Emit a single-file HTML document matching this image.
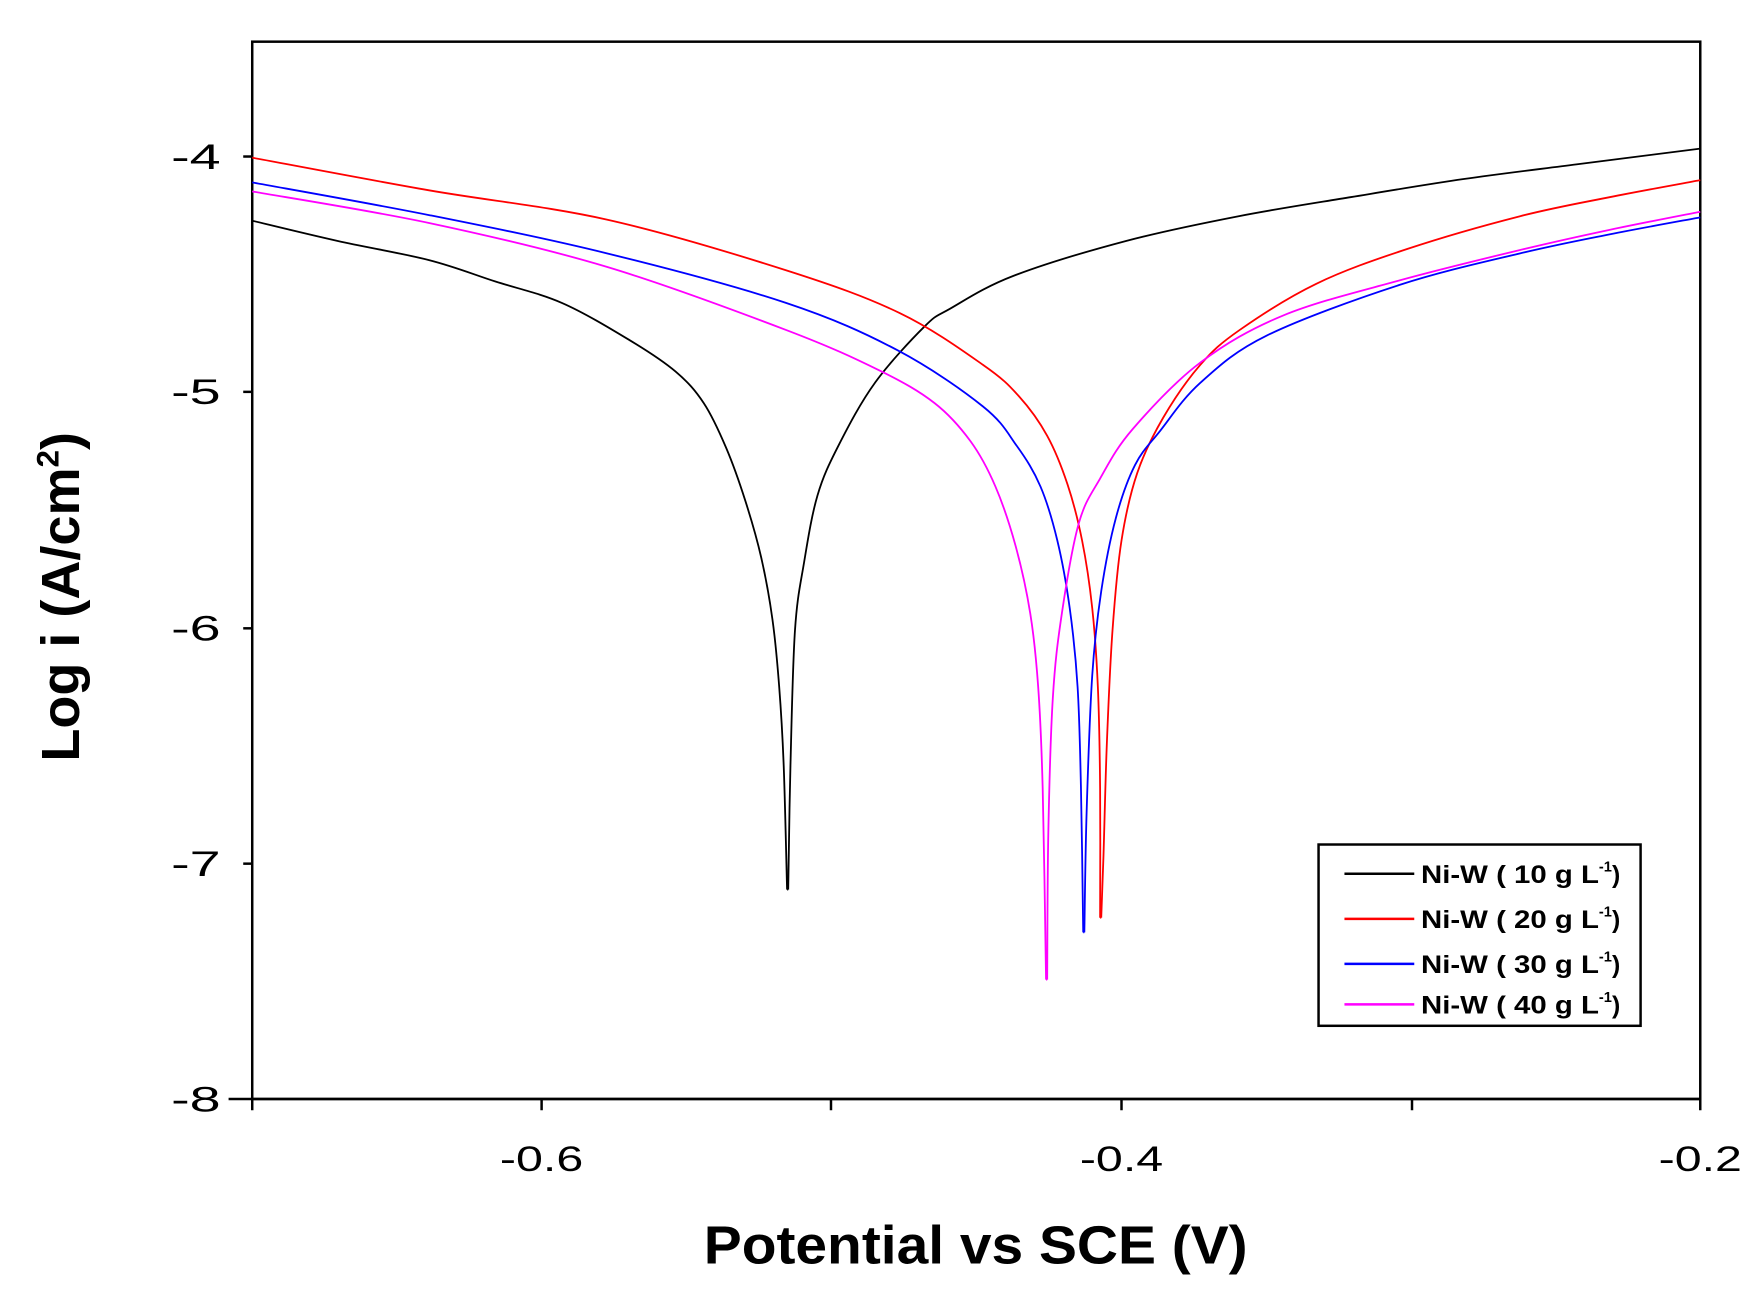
<!DOCTYPE html>
<html><head><meta charset="utf-8"><style>
html,body{margin:0;padding:0;background:#fff;}
svg{display:block;}
text{font-family:"Liberation Sans",Arial,sans-serif;}
</style></head><body>
<svg id="s" width="1764" height="1292" viewBox="0 0 1566.6 1147.4" xmlns="http://www.w3.org/2000/svg">
<rect x="0" y="0" width="1566.6" height="1147.4" fill="#fff"/>
<g stroke="#000" stroke-width="2.2" fill="none">
<rect x="224" y="37" width="1286" height="939"/>
<line x1="203" y1="976" x2="1510" y2="976"/>
<line x1="224" y1="976" x2="224" y2="986"/>
<line x1="481" y1="976" x2="481" y2="986"/>
<line x1="738" y1="976" x2="738" y2="986"/>
<line x1="996" y1="976" x2="996" y2="986"/>
<line x1="1254" y1="976" x2="1254" y2="986"/>
<line x1="1510" y1="976" x2="1510" y2="986"/>
<line x1="216" y1="139" x2="224" y2="139"/>
<line x1="216" y1="348" x2="224" y2="348"/>
<line x1="216" y1="558" x2="224" y2="558"/>
<line x1="216" y1="767" x2="224" y2="767"/>
</g>
<g font-size="31" fill="#000">
<text x="152" y="150" textLength="44" lengthAdjust="spacingAndGlyphs">-4</text>
<text x="152" y="359" textLength="44" lengthAdjust="spacingAndGlyphs">-5</text>
<text x="152" y="569" textLength="44" lengthAdjust="spacingAndGlyphs">-6</text>
<text x="152" y="778" textLength="44" lengthAdjust="spacingAndGlyphs">-7</text>
<text x="152" y="987" textLength="44" lengthAdjust="spacingAndGlyphs">-8</text>
</g>
<g font-size="31" fill="#000">
<text x="444" y="1040" textLength="74" lengthAdjust="spacingAndGlyphs">-0.6</text>
<text x="959" y="1040" textLength="74" lengthAdjust="spacingAndGlyphs">-0.4</text>
<text x="1473" y="1040" textLength="74" lengthAdjust="spacingAndGlyphs">-0.2</text>
</g>
<text x="625" y="1122" font-size="48" font-weight="bold" textLength="483" lengthAdjust="spacingAndGlyphs">Potential vs SCE (V)</text>
<text transform="translate(70,530) rotate(-90)" font-size="48" font-weight="bold" text-anchor="middle">Log i (A/cm<tspan font-size="28" dy="-18">2</tspan><tspan dy="18">)</tspan></text>
<g id="curves" fill="none" stroke-width="1.6" stroke-linejoin="round"></g>
<rect x="1171" y="750" width="286" height="161" fill="#fff" stroke="#000" stroke-width="2.2"/>
<g stroke-width="2.2">
<line x1="1194" y1="776" x2="1256" y2="776" stroke="#000"/>
<line x1="1194" y1="816" x2="1256" y2="816" stroke="#ff0000"/>
<line x1="1194" y1="856" x2="1256" y2="856" stroke="#0000ff"/>
<line x1="1194" y1="892" x2="1256" y2="892" stroke="#ff00ff"/>
</g>
<g font-size="22" font-weight="bold" fill="#000">
<text x="1262" y="784"><tspan textLength="158" lengthAdjust="spacingAndGlyphs">Ni-W ( 10 g L</tspan><tspan font-size="13" dy="-10">-1</tspan><tspan dy="10">)</tspan></text>
<text x="1262" y="824"><tspan textLength="158" lengthAdjust="spacingAndGlyphs">Ni-W ( 20 g L</tspan><tspan font-size="13" dy="-10">-1</tspan><tspan dy="10">)</tspan></text>
<text x="1262" y="864"><tspan textLength="158" lengthAdjust="spacingAndGlyphs">Ni-W ( 30 g L</tspan><tspan font-size="13" dy="-10">-1</tspan><tspan dy="10">)</tspan></text>
<text x="1262" y="900"><tspan textLength="158" lengthAdjust="spacingAndGlyphs">Ni-W ( 40 g L</tspan><tspan font-size="13" dy="-10">-1</tspan><tspan dy="10">)</tspan></text>
</g>
</svg>
<script>
var series=[
["#000",[[224,196],[300,214],[381,231],[440,250],[499,269],[559,302],[600,330],[625,358],[645,398],[662,445],[676,495],[686,550],[692,610],[696,680],[699,790]],
 [[700,790],[702,680],[706,560],[714,500],[726,440],[745,395],[777,340],[821,290],[844,274],[900,245],[1000,214],[1100,192],[1200,175],[1300,159],[1400,146],[1510,132]]],
["#ff0000",[[224,140],[381,169],[539,195],[698,240],[799,278],[873,324],[905,352],[930,387],[948,430],[961,480],[970,540],[975,610],[977,700],[977,815]],
 [[978,815],[980,760],[983,660],[988,560],[996,480],[1010,420],[1033,371],[1066,324],[1101,293],[1169,252],[1250,221],[1350,192],[1430,175],[1510,160]]],
["#0000ff",[[224,162],[381,191],[539,225],[698,269],[797,311],[873,361],[903,396],[924,432],[939,480],[950,540],[957,610],[960,700],[962,828]],
 [[963,828],[965,722],[970,600],[978,525],[991,460],[1008,413],[1030,383],[1066,340],[1125,298],[1243,253],[1350,225],[1430,208],[1510,193]]],
["#ff00ff",[[224,170],[381,198],[539,237],[698,293],[781,329],[830,358],[862,392],[884,432],[902,485],[915,545],[922,610],[926,700],[929,870]],
 [[930,870],[931,740],[935,620],[943,545],[958,465],[977,425],[1006,381],[1066,322],[1140,280],[1243,249],[1350,222],[1430,204],[1510,188]]]
];
function cr(p){var d="M"+p[0][0]+","+p[0][1];for(var i=0;i<p.length-1;i++){var p0=p[i-1]||p[i],p1=p[i],p2=p[i+1],p3=p[i+2]||p2;
var c1x=p1[0]+(p2[0]-p0[0])/6,c1y=p1[1]+(p2[1]-p0[1])/6,c2x=p2[0]-(p3[0]-p1[0])/6,c2y=p2[1]-(p3[1]-p1[1])/6;
d+=" C"+c1x+","+c1y+" "+c2x+","+c2y+" "+p2[0]+","+p2[1];}return d;}
var g=document.getElementById("curves"),ns="http://www.w3.org/2000/svg";
series.forEach(function(s){[s[1],s[2]].forEach(function(pts){var e=document.createElementNS(ns,"path");e.setAttribute("d",cr(pts));e.setAttribute("stroke",s[0]);g.appendChild(e);});
var l=document.createElementNS(ns,"path");var a=s[1][s[1].length-1],b=s[2][0];l.setAttribute("d","M"+a[0]+","+a[1]+" L"+b[0]+","+b[1]);l.setAttribute("stroke",s[0]);g.appendChild(l);});
</script>
</body></html>
